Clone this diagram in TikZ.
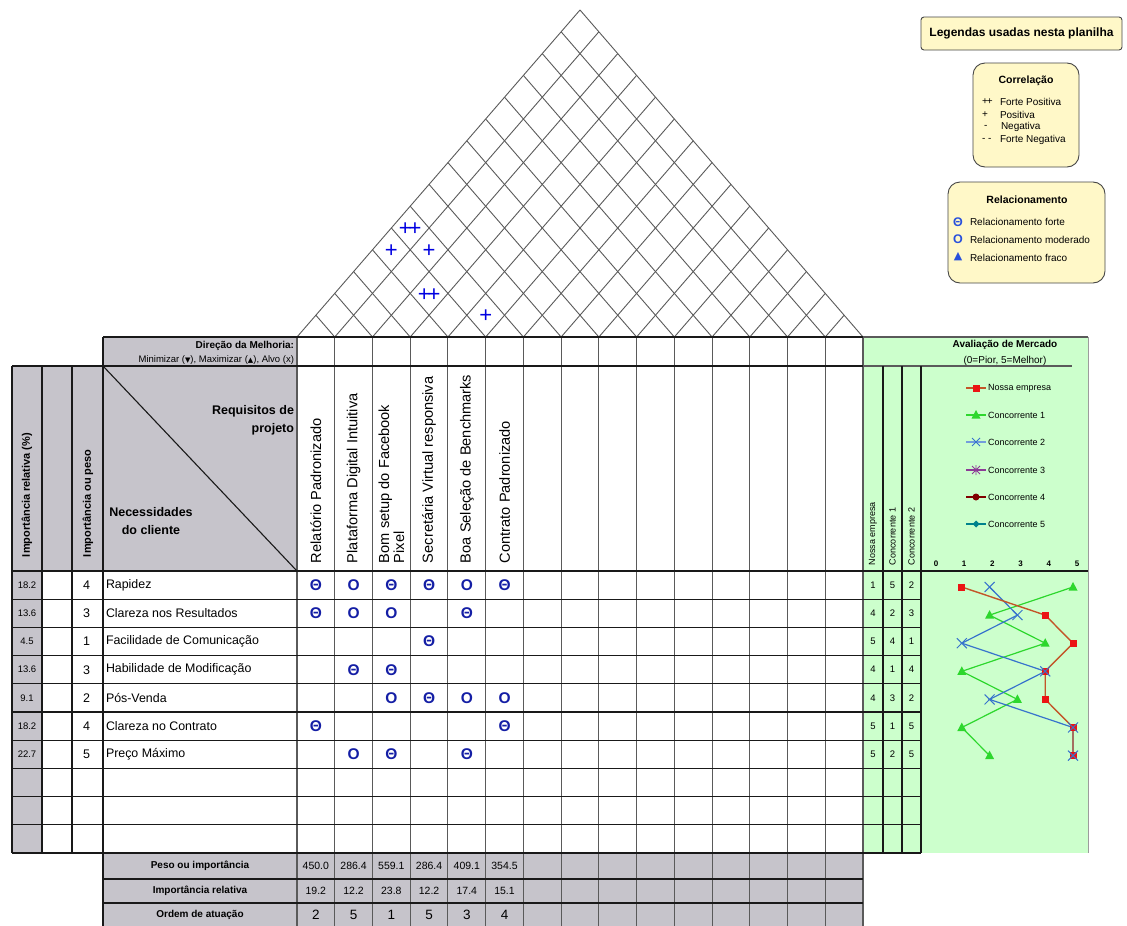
\documentclass[tikz,border=0pt]{standalone}
\usepackage{fontspec}
\setmainfont{Liberation Sans}
\newfontfamily\symfont{DejaVu Sans}
\newcommand{\fsz}[1]{\fontsize{#1}{#1}\selectfont}
\definecolor{hgray}{RGB}{198,196,203}
\definecolor{mgreen}{RGB}{204,255,204}
\definecolor{lyellow}{RGB}{255,248,200}
\definecolor{relblue}{RGB}{20,30,165}
\definecolor{legblue}{RGB}{40,80,220}
\definecolor{corblue}{RGB}{0,0,225}
\definecolor{gridc}{RGB}{90,90,90}
\definecolor{darkc}{RGB}{25,25,25}
\definecolor{boxc}{RGB}{70,70,70}
\definecolor{ourline}{RGB}{195,85,40}
\definecolor{ourmark}{RGB}{235,20,20}
\definecolor{c1green}{RGB}{45,215,45}
\definecolor{c2blue}{RGB}{55,115,205}
\definecolor{c3purple}{RGB}{140,60,150}
\definecolor{c4red}{RGB}{128,0,0}
\definecolor{c5teal}{RGB}{0,130,140}
\begin{document}
\begin{tikzpicture}[x=1pt,y=-1pt,
  every node/.style={inner sep=0pt,outer sep=0pt},
  roofline/.style={draw=gridc,line width=0.9pt},
  colline/.style={draw=gridc,line width=1.1pt},
  rowline/.style={draw=darkc,line width=1.1pt},
  needtxt/.style={anchor=west,font=\fsz{12.4}},
  hdrtxt/.style={rotate=90,anchor=west,font=\fsz{14.6}},
  vlab/.style={rotate=90,anchor=west,font=\bfseries\fsz{11}},
  rel/.style={font=\bfseries\fsz{15.5},text=relblue},
  cor/.style={font=\fsz{22},text=corblue},
  relnum/.style={font=\fsz{9.5}},
  wnum/.style={font=\fsz{12.5}},
  subnum/.style={font=\fsz{9.5}},
  subhdr/.style={rotate=90,anchor=west,font=\fsz{9}},
  botlab/.style={font=\bfseries\fsz{10}},
  botnum/.style={font=\fsz{10.5}},
  ordnum/.style={font=\fsz{13.5}},
  legbox/.style={draw=boxc,fill=lyellow,line width=0.9pt,rounded corners=12pt},
  legtitle/.style={font=\bfseries\fsz{10.5}},
  legitem/.style={anchor=west,font=\fsz{10}},
  chleg/.style={anchor=west,font=\fsz{9}},
  axlab/.style={font=\bfseries\fsz{8}},
]
\useasboundingbox (0,0) rectangle (1127,926);
\fill[white] (0,0) rectangle (1127,926);

% ---------- fills ----------
\fill[hgray] (103,337) rectangle (297,366);
\fill[hgray] (12,366) rectangle (103,571);
\fill[hgray] (103,366) rectangle (297,571);
\fill[hgray] (12,571) rectangle (42,853);
\fill[hgray] (103,853) rectangle (863,926);
\fill[mgreen] (863,337) rectangle (1088,853);

% ---------- roof ----------
\foreach \i in {0,...,15}{
  \pgfmathsetmacro\xa{297+\i*37.7333}
  \pgfmathsetmacro\xr{(\xa+863)/2}
  \pgfmathsetmacro\yr{337-1.1555*(863-\xa)/2}
  \pgfmathsetmacro\xl{(297+\xa)/2}
  \pgfmathsetmacro\yl{337-1.1555*(\xa-297)/2}
  \draw[roofline] (\xl,\yl) -- (\xa,337) -- (\xr,\yr);
}
\node[cor] (cm16) at (410.2,229.3) {+\kern-3pt+};
\node[cor] (cm15) at (391.3,251.1) {+};
\node[cor] (cm26) at (429.1,251.1) {+};
\node[cor] (cm35) at (429.1,294.7) {+\kern-3pt+};
\node[cor] (cm56) at (485.7,316.5) {+};

% ---------- grid lines ----------
\foreach \i in {0,...,15}{
  \pgfmathsetmacro\xa{297+\i*37.7333}
  \draw[colline] (\xa,337) -- (\xa,926);
}
\draw[rowline] (103,337) -- (863,337);
\draw[colline] (863,337) -- (1088,337);
\draw[rowline] (12,366) -- (863,366);
\draw[colline] (863,366) -- (1072,366);
\foreach \k in {0,...,10}{
  \pgfmathsetmacro\ya{571+\k*28.2}
  \draw[rowline] (12,\ya) -- (921,\ya);
}
\draw[rowline] (921,571) -- (1088,571);
\foreach \xv in {12,42,72,103}{\draw[rowline] (\xv,366) -- (\xv,853);}
\draw[rowline] (103,337) -- (103,366);
\draw[rowline] (103,853) -- (103,926);
\draw[darkc,line width=1.1pt] (103,366) -- (297,571);
\draw[rowline] (103,879) -- (863,879);
\draw[rowline] (103,903) -- (863,903);
\foreach \xv in {883,902,921}{\draw[rowline] (\xv,366) -- (\xv,853);}
\draw[gridc!60,line width=0.8pt] (1088,337) -- (1088,853);

% ---------- header texts ----------
\node[anchor=east,font=\bfseries\fsz{10}] (dirT) at (294,345.5) {Direção da Melhoria:};
\node[anchor=east,font=\fsz{9.5}] (dirS) at (294,360) {Minimizar ({\symfont\fsz{7}▼}), Maximizar ({\symfont\fsz{7}▲}), Alvo (x)};
\node[anchor=base east,font=\bfseries\fsz{12.5}] (req1) at (294,414.5) {Requisitos de};
\node[anchor=base east,font=\bfseries\fsz{12.5}] (req2) at (294,432.5) {projeto};
\node[anchor=base,font=\bfseries\fsz{12.5}] (nec1) at (151,516.5) {Necessidades};
\node[anchor=base,font=\bfseries\fsz{12.5}] (nec2) at (151,534.5) {do cliente};
\node[vlab] (hImpRel) at (27,557) {Importância relativa (\%)};
\node[vlab] (hImpPeso) at (88,557) {Importância ou peso};

\node[hdrtxt] (h1) at (315.9,563) {Relatório Padronizado};
\node[hdrtxt] (h2) at (353.6,563) {Plataforma Digital Intuitiva};
\node[hdrtxt,align=left,font=\fontsize{14.6}{15}\selectfont] (h3) at (391.3,563) {Bom setup do Facebook\\Pixel};
\node[hdrtxt] (h4) at (429.1,563) {Secretária Virtual responsiva};
\node[hdrtxt] (h5) at (466.8,563) {Boa Seleção de Benchmarks};
\node[hdrtxt] (h6) at (504.6,563) {Contrato Padronizado};

% ---------- rows ----------
\foreach \k/\rv/\wv/\nm in {1/18.2/4/Rapidez,2/13.6/3/Clareza nos Resultados,3/4.5/1/Facilidade de Comunicação,4/13.6/3/Habilidade de Modificação,5/9.1/2/Pós-Venda,6/18.2/4/Clareza no Contrato,7/22.7/5/Preço Máximo}{
  \pgfmathsetmacro\yc{571+28.2*(\k-0.5)}
  \node[relnum] (rel\k) at (27,\yc) {\rv};
  \node[wnum] (w\k) at (86.5,\yc) {\wv};
  \node[needtxt] (need\k) at (106,\yc) {\nm};
}

% ---------- relationship matrix ----------
\foreach \r/\c/\s in {1/1/Θ,1/2/O,1/3/Θ,1/4/Θ,1/5/O,1/6/Θ,2/1/Θ,2/2/O,2/3/O,2/5/Θ,3/4/Θ,4/2/Θ,4/3/Θ,5/3/O,5/4/Θ,5/5/O,5/6/O,6/1/Θ,6/6/Θ,7/2/O,7/3/Θ,7/5/Θ}{
  \pgfmathsetmacro\xc{297+37.7333*(\c-0.5)}
  \pgfmathsetmacro\yc{571+28.2*(\r-0.5)}
  \node[rel] (m\r-\c) at (\xc,\yc) {\s};
}

% ---------- bottom block ----------
\node[botlab] (bl1) at (200,866) {Peso ou importância};
\node[botlab] (bl2) at (200,891) {Importância relativa};
\node[botlab] (bl3) at (200,914.5) {Ordem de atuação};
\foreach \c/\a/\b/\o in {1/450.0/19.2/2,2/286.4/12.2/5,3/559.1/23.8/1,4/286.4/12.2/5,5/409.1/17.4/3,6/354.5/15.1/4}{
  \pgfmathsetmacro\xc{297+37.7333*(\c-0.5)}
  \node[botnum] (pw\c) at (\xc,866) {\a};
  \node[botnum] (ri\c) at (\xc,891) {\b};
  \node[ordnum] (od\c) at (\xc,914.5) {\o};
}

% ---------- market evaluation ----------
\node[font=\bfseries\fsz{10}] (avT) at (1005,344.5) {Avaliação de Mercado};
\node[font=\fsz{10}] (avS) at (1005,361) {(0=Pior, 5=Melhor)};
\node[subhdr] (sh1) at (873,565) {Nossa empresa};
\node[subhdr] (sh2) at (892.5,565) {Concorrente 1};
\node[subhdr] (sh3) at (911.5,565) {Concorrente 2};
\foreach \k/\a/\b/\cc in {1/1/5/2,2/4/2/3,3/5/4/1,4/4/1/4,5/4/3/2,6/5/1/5,7/5/2/5}{
  \pgfmathsetmacro\yc{571+28.2*(\k-0.5)}
  \node[subnum] (sa\k) at (873,\yc) {\a};
  \node[subnum] (sb\k) at (892.5,\yc) {\b};
  \node[subnum] (sc\k) at (911.5,\yc) {\cc};
}
\foreach \v in {0,...,5}{
  \pgfmathsetmacro\xc{936+28.2*\v}
  \node[axlab] (ax\v) at (\xc,564) {\v};
}

% chart lines
\draw[c1green,line width=1.2pt] plot coordinates {(1073,587) (989.6,615.1) (1045.2,643.2) (961.8,671.3) (1017.4,699.4) (961.8,727.5) (989.6,755.6)};
\draw[c2blue,line width=1.2pt] plot coordinates {(989.6,587) (1017.4,615.1) (961.8,643.2) (1045.2,671.3) (989.6,699.4) (1073,727.5) (1073,755.6)};
\draw[ourline,line width=1.4pt] plot coordinates {(961.8,587) (1045.2,615.1) (1073,643.2) (1045.2,671.3) (1045.2,699.4) (1073,727.5) (1073,755.6)};
\foreach \px/\py in {1073/587,989.6/615.1,1045.2/643.2,961.8/671.3,1017.4/699.4,961.8/727.5,989.6/755.6}{
  \fill[c1green] (\px,\py-5) -- (\px+4.5,\py+3.5) -- (\px-4.5,\py+3.5) -- cycle;
}
\foreach \px/\py in {961.8/587,1045.2/615.1,1073/643.2,1045.2/671.3,1045.2/699.4,1073/727.5,1073/755.6}{
  \fill[ourmark] (\px-3.5,\py-3.5) rectangle (\px+3.5,\py+3.5);
}
\foreach \px/\py in {989.6/587,1017.4/615.1,961.8/643.2,1045.2/671.3,989.6/699.4,1073/727.5,1073/755.6}{
  \draw[c2blue,line width=1pt] (\px-5,\py-5) -- (\px+5,\py+5) (\px-5,\py+5) -- (\px+5,\py-5);
}

% chart legend
\draw[ourline,line width=1.2pt] (966,388) -- (986,388);
\fill[ourmark] (972.5,384.5) rectangle (979.5,391.5);
\node[chleg] (lg1) at (988,388) {Nossa empresa};
\draw[c1green,line width=1.2pt] (966,415) -- (986,415);
\fill[c1green] (976,410) -- (980.5,418.5) -- (971.5,418.5) -- cycle;
\node[chleg] (lg2) at (988,415) {Concorrente 1};
\draw[c2blue!70,line width=1.2pt] (966,442) -- (986,442);
\draw[c2blue,line width=0.9pt] (972,438) -- (980,446) (972,446) -- (980,438);
\node[chleg] (lg3) at (988,442) {Concorrente 2};
\draw[c3purple,line width=1.2pt] (966,470) -- (986,470);
\draw[c3purple,line width=0.9pt] (972,466) -- (980,474) (972,474) -- (980,466) (976,465) -- (976,475);
\node[chleg] (lg4) at (988,470) {Concorrente 3};
\draw[c4red,line width=1.2pt] (966,497) -- (986,497);
\fill[c4red] (976,497) circle (3.5);
\node[chleg] (lg5) at (988,497) {Concorrente 4};
\draw[c5teal,line width=1.2pt] (966,524) -- (986,524);
\fill[c5teal] (976,520.5) -- (979.5,524) -- (976,527.5) -- (972.5,524) -- cycle;
\node[chleg] (lg6) at (988,524) {Concorrente 5};

% ---------- legends top right ----------
\draw[draw=boxc,fill=lyellow,line width=0.9pt,rounded corners=3pt] (921,17) rectangle (1122,50);
\node[font=\bfseries\fsz{12}] (legT) at (1021.5,33.5) {Legendas usadas nesta planilha};

\draw[legbox] (973,63) rectangle (1079,167);
\node[legtitle] (corT) at (1026,81) {Correlação};
\node[legitem] (cs1) at (982,102) {+\kern-1pt+};
\node[legitem] (ct1) at (1000,102) {Forte Positiva};
\node[legitem] (cs2) at (982,114.5) {+};
\node[legitem] (ct2) at (1000,114.5) {Positiva};
\node[legitem] (cs3) at (984,127) {-};
\node[legitem] (ct3) at (1001,127) {Negativa};
\node[legitem] (cs4) at (982,139.5) {- -};
\node[legitem] (ct4) at (1000,139.5) {Forte Negativa};

\draw[legbox] (948,182) rectangle (1105,283);
\node[legtitle] (relT) at (1027,200) {Relacionamento};
\node[font=\bfseries\fsz{12.5},text=legblue] (rs1) at (958,222) {Θ};
\node[legitem] (rt1) at (970,222) {Relacionamento forte};
\node[font=\bfseries\fsz{12.5},text=legblue] (rs2) at (958,239.5) {O};
\node[legitem] (rt2) at (970,239.5) {Relacionamento moderado};
\node[font=\symfont\fsz{11},text=legblue] (rs3) at (958,257) {▲};
\node[legitem] (rt3) at (970,257.5) {Relacionamento fraco};
\end{tikzpicture}
\end{document}
